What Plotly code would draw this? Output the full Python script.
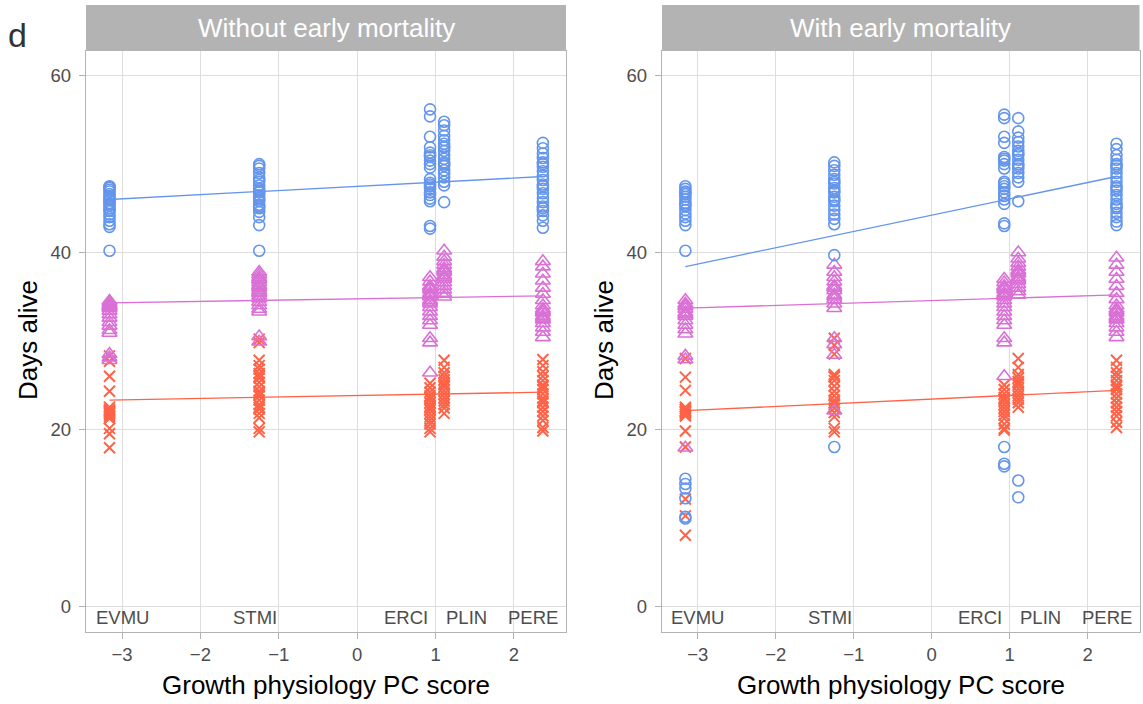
import plotly.graph_objects as go

# ---------------- data ----------------
species = ["EVMU", "STMI", "ERCI", "PLIN", "PERE"]
pc_score = [-3.16, -1.25, 0.93, 1.11, 2.37]
label_x = [-3.0, -1.3, 0.93, 1.11, 2.25]
label_anchor = ["center", "center", "right", "left", "center"]

groups = ["blue", "pink", "red"]
colors = {"blue": "#6495ED", "pink": "#DA70D6", "red": "#FF6347"}
symbols = {"blue": "circle-open", "pink": "triangle-up-open", "red": "x-thin"}

# Without early mortality
without_blue = {
    "EVMU": [47.5, 47.3, 47.1, 46.9, 46.6, 46.4, 46.2, 45.9, 45.6, 45.3, 45.0, 44.7, 44.3, 44.0, 43.6, 43.2, 42.9, 40.2, 47.4, 46.0, 45.5, 44.8],
    "STMI": [50.0, 49.8, 49.5, 49.0, 48.5, 48.0, 47.6, 47.2, 46.8, 46.5, 46.2, 45.8, 45.4, 45.0, 44.6, 44.0, 43.1, 40.2, 47.0, 46.0, 48.2, 45.2],
    "ERCI": [56.2, 55.4, 53.1, 51.9, 51.3, 50.8, 50.4, 50.0, 49.6, 48.3, 47.9, 47.5, 47.2, 46.8, 46.5, 46.1, 45.8, 43.0, 42.7, 51.0, 47.7],
    "PLIN": [54.8, 54.4, 53.8, 53.2, 52.7, 52.3, 51.9, 51.5, 51.0, 50.6, 50.2, 49.8, 49.3, 48.9, 48.5, 48.0, 47.6, 45.7, 52.0, 50.0],
    "PERE": [52.4, 51.8, 51.2, 50.7, 50.2, 49.7, 49.2, 48.7, 48.2, 47.7, 47.2, 46.7, 46.2, 45.7, 45.2, 44.7, 44.2, 43.6, 42.8, 50.0, 47.5, 45.0],
}
without_pink = {
    "EVMU": [34.5, 34.3, 34.1, 33.9, 33.7, 33.4, 33.0, 32.6, 32.1, 31.7, 31.2, 30.9, 28.5, 28.1, 27.8, 34.0, 33.8],
    "STMI": [37.8, 37.5, 37.2, 36.9, 36.6, 36.3, 36.0, 35.7, 35.4, 35.1, 34.8, 34.4, 34.0, 33.6, 33.3, 30.5, 29.9, 37.0, 36.2, 35.5],
    "ERCI": [37.2, 36.7, 36.2, 35.8, 35.4, 35.0, 34.6, 34.2, 33.8, 33.3, 32.8, 32.3, 31.8, 30.3, 29.8, 36.0, 35.2, 34.4, 26.4],
    "PLIN": [40.2, 39.5, 39.0, 38.6, 38.2, 37.8, 37.4, 37.0, 36.6, 36.2, 35.8, 35.4, 35.0, 38.0, 37.2],
    "PERE": [39.0, 38.4, 37.6, 36.8, 36.0, 35.3, 34.6, 34.0, 33.6, 33.2, 32.8, 32.4, 32.0, 31.5, 31.0, 30.4, 33.4, 32.6],
}
without_red = {
    "EVMU": [28.3, 27.7, 26.0, 24.3, 22.5, 22.2, 22.0, 21.8, 21.6, 21.4, 21.2, 20.1, 19.5, 17.9, 22.1, 21.9],
    "STMI": [30.2, 29.8, 27.8, 27.2, 26.8, 26.3, 25.8, 25.3, 24.8, 24.3, 23.8, 23.3, 22.8, 22.3, 21.8, 21.3, 20.1, 19.7, 26.0, 24.0, 22.5],
    "ERCI": [25.2, 24.7, 24.2, 23.8, 23.4, 23.0, 22.6, 22.2, 21.8, 21.4, 21.0, 20.6, 20.1, 19.7, 23.5, 22.4],
    "PLIN": [27.8, 27.0, 26.4, 26.0, 25.6, 25.2, 24.8, 24.4, 24.0, 23.6, 23.2, 22.8, 22.4, 21.8, 25.0],
    "PERE": [27.9, 27.2, 26.5, 26.0, 25.5, 25.0, 24.5, 24.0, 23.5, 23.0, 22.5, 22.0, 21.5, 21.0, 20.2, 19.8, 24.8, 23.2],
}

# With early mortality
with_blue = {
    "EVMU": [47.5, 47.2, 46.9, 46.6, 46.3, 46.0, 45.6, 45.2, 44.8, 44.4, 44.0, 43.6, 43.1, 40.2, 14.4, 13.8, 13.3, 12.2, 10.1, 9.9, 46.8, 45.4],
    "STMI": [50.2, 49.8, 49.3, 48.8, 48.3, 47.8, 47.3, 46.8, 46.3, 45.8, 45.3, 44.8, 44.3, 43.8, 43.2, 39.7, 18.0, 47.0, 46.0, 48.0],
    "ERCI": [55.6, 55.2, 53.1, 52.4, 50.8, 50.4, 50.0, 49.5, 48.0, 47.5, 47.2, 46.8, 46.4, 46.0, 45.5, 43.3, 43.0, 18.0, 16.1, 15.8, 50.6, 47.8],
    "PLIN": [55.2, 53.7, 53.0, 52.5, 52.0, 51.5, 51.0, 50.5, 50.0, 49.5, 49.0, 48.5, 48.0, 45.8, 14.2, 12.3, 51.2, 49.8],
    "PERE": [52.3, 51.7, 51.0, 50.5, 50.0, 49.5, 49.0, 48.5, 48.0, 47.5, 47.0, 46.5, 46.0, 45.5, 45.0, 44.5, 44.0, 43.5, 43.1, 49.8, 47.3, 45.2],
}
with_pink = {
    "EVMU": [34.6, 34.2, 33.9, 33.6, 33.2, 32.8, 32.3, 31.8, 31.3, 30.8, 28.3, 27.9, 17.9, 34.0, 33.0],
    "STMI": [38.6, 37.8, 37.2, 36.7, 36.2, 35.7, 35.2, 34.7, 34.2, 33.7, 30.3, 29.6, 28.4, 22.1, 36.0, 35.0],
    "ERCI": [37.0, 36.6, 36.2, 35.8, 35.4, 35.0, 34.6, 34.2, 33.8, 33.3, 32.8, 32.3, 31.8, 30.3, 29.8, 26.0, 36.0, 35.2],
    "PLIN": [40.0, 39.3, 38.8, 38.4, 38.0, 37.6, 37.2, 36.8, 36.4, 36.0, 35.6, 35.2, 37.8, 37.0],
    "PERE": [39.4, 38.6, 37.8, 37.0, 36.2, 35.4, 34.7, 34.0, 33.6, 33.2, 32.8, 32.4, 32.0, 31.5, 31.0, 30.4, 33.4, 32.6],
}
with_red = {
    "EVMU": [28.0, 25.9, 24.4, 22.5, 22.3, 22.1, 21.9, 21.7, 21.5, 19.8, 18.0, 12.1, 10.2, 8.0, 22.0],
    "STMI": [30.3, 29.5, 28.5, 26.2, 25.9, 25.5, 24.9, 24.3, 23.8, 23.3, 22.8, 22.4, 21.9, 21.4, 20.1, 19.7, 26.0, 23.0],
    "ERCI": [25.0, 24.5, 24.0, 23.6, 23.2, 22.8, 22.4, 22.0, 21.6, 21.2, 20.6, 20.1, 19.9, 23.4],
    "PLIN": [28.0, 27.0, 26.2, 25.8, 25.4, 25.0, 24.6, 24.2, 23.8, 23.4, 23.0, 22.5, 25.2],
    "PERE": [27.8, 27.0, 26.4, 26.0, 25.5, 25.0, 24.5, 24.0, 23.5, 23.0, 22.5, 22.0, 21.5, 20.8, 20.2, 24.8],
}

# fitted regression lines: value at min PC score and at max PC score
without_fit = {"blue": [46.0, 48.6], "pink": [34.3, 35.1], "red": [23.3, 24.2]}
with_fit = {"blue": [38.4, 48.6], "pink": [33.7, 35.2], "red": [22.1, 24.4]}

panel_titles = ["Without early mortality", "With early mortality"]
x_ticks = [-3, -2, -1, 0, 1, 2]
y_ticks = [0, 20, 40, 60]

# ---------------- figure ----------------
W, H = 1143, 704
FONT = "Liberation Sans, Arial, Helvetica, sans-serif"
left_dom = [86 / W, 566 / W]
right_dom = [662 / W, 1139.5 / W]
y_dom = [72 / H, 653 / H]
x_range = [-3.46, 2.665]
y_range = [-2.94, 62.8]

fig = go.Figure()

panels = [
    ("x", "y", {"blue": without_blue, "pink": without_pink, "red": without_red}, without_fit),
    ("x2", "y2", {"blue": with_blue, "pink": with_pink, "red": with_red}, with_fit),
]

for xa, ya, data, fit in panels:
    for g in groups:
        fig.add_trace(go.Scatter(
            x=[min(pc_score), max(pc_score)], y=fit[g], mode="lines",
            line=dict(color=colors[g], width=1.3), xaxis=xa, yaxis=ya,
            showlegend=False, hoverinfo="skip"))
    for g in ["red", "pink", "blue"]:
        xs, ys = [], []
        for sp, px in zip(species, pc_score):
            vals = data[g][sp]
            xs += [px] * len(vals)
            ys += vals
        if g == "red":
            marker = dict(symbol=symbols[g], size=11, color=colors[g],
                          line=dict(color=colors[g], width=2))
        elif g == "pink":
            marker = dict(symbol=symbols[g], size=13, color=colors[g],
                          line=dict(color=colors[g], width=1.6))
        else:
            marker = dict(symbol=symbols[g], size=11, color=colors[g],
                          line=dict(color=colors[g], width=1.6))
        fig.add_trace(go.Scatter(x=xs, y=ys, mode="markers", marker=marker,
                                 xaxis=xa, yaxis=ya, showlegend=False))
    for sp, lx, anc in zip(species, label_x, label_anchor):
        fig.add_annotation(x=lx, y=-1.25, xref=xa, yref=ya, text=sp,
                           showarrow=False, xanchor=anc, yanchor="middle",
                           font=dict(family=FONT, size=18.5, color="#4d4d4d"))

axis_common = dict(
    showline=True, linecolor="#b3b3b3", linewidth=1.3, mirror=True,
    showgrid=True, gridcolor="#dedede", gridwidth=1,
    zeroline=False, ticks="outside", ticklen=6, tickcolor="#b3b3b3",
    tickfont=dict(family=FONT, size=18.5, color="#4d4d4d"),
)

fig.update_layout(
    width=W, height=H,
    margin=dict(l=0, r=0, t=0, b=0),
    plot_bgcolor="white", paper_bgcolor="white",
    font=dict(family=FONT),
    showlegend=False,
    xaxis=dict(domain=left_dom, range=x_range, tickvals=x_ticks, anchor="y", **axis_common),
    yaxis=dict(domain=y_dom, range=y_range, tickvals=y_ticks, anchor="x",
               ticklabelstandoff=4, **axis_common),
    xaxis2=dict(domain=right_dom, range=x_range, tickvals=x_ticks, anchor="y2", **axis_common),
    yaxis2=dict(domain=y_dom, range=y_range, tickvals=y_ticks, anchor="x2",
                ticklabelstandoff=4, **axis_common),
)

for dom, title in zip([left_dom, right_dom], panel_titles):
    fig.add_shape(type="rect", xref="paper", yref="paper",
                  x0=dom[0], x1=dom[1], y0=653 / H, y1=699 / H,
                  fillcolor="#b3b3b3", line=dict(width=0), layer="below")
    fig.add_annotation(xref="paper", yref="paper", x=(dom[0] + dom[1]) / 2,
                       y=676 / H, text=title, showarrow=False,
                       xanchor="center", yanchor="middle",
                       font=dict(family=FONT, size=26, color="white"))
    fig.add_annotation(xref="paper", yref="paper", x=(dom[0] + dom[1]) / 2,
                       y=(H - 685) / H, text="Growth physiology PC score",
                       showarrow=False, xanchor="center", yanchor="middle",
                       font=dict(family=FONT, size=26, color="black"))

for xp in [28, 604]:
    fig.add_annotation(xref="paper", yref="paper", x=xp / W, y=(H - 340) / H,
                       text="Days alive", textangle=-90, showarrow=False,
                       xanchor="center", yanchor="middle",
                       font=dict(family=FONT, size=26, color="black"))

fig.add_annotation(xref="paper", yref="paper", x=17 / W, y=(H - 35) / H,
                   text="d", showarrow=False, xanchor="center", yanchor="middle",
                   font=dict(family=FONT, size=34, color="#333333"))

fig.write_html("out.html")
